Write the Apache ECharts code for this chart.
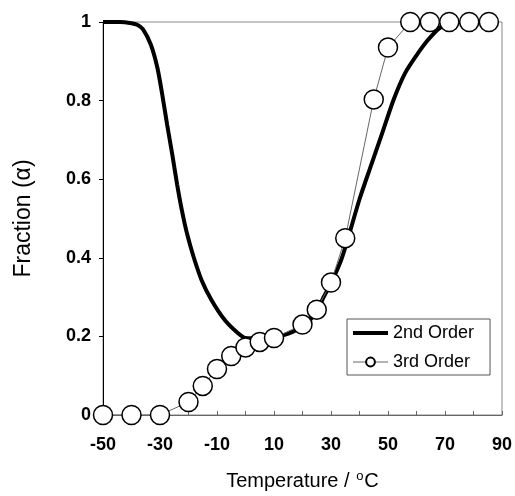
<!DOCTYPE html>
<html>
<head>
<meta charset="utf-8">
<title>Fraction vs Temperature</title>
<script src="https://cdn.jsdelivr.net/npm/echarts@6/dist/echarts.min.js"></script>
<style>
    html, body { margin: 0; padding: 0; background: #fff; }
    #chart { width: 515px; height: 496px; }
</style>
</head>
<body>
<div id="chart"></div>
<script>
/* ------ data ------ */

var secondTemps = [-50, -44, -40, -38, -36, -33.2, -30.9, -29.2, -27.5, -25.7, -24, -22.3, -20.5, -18.2, -15.4, -11.9, -7.2, -2.6, 0, 5, 10, 15, 20, 25, 27.4, 30, 33.7, 36.6, 40, 44, 48, 52, 56, 60, 64, 68, 72, 80, 86];
var secondFrac = [1, 1, 0.997, 0.993, 0.982, 0.942, 0.883, 0.815, 0.739, 0.663, 0.587, 0.52, 0.461, 0.402, 0.343, 0.292, 0.241, 0.208, 0.196, 0.195, 0.198, 0.207, 0.226, 0.262, 0.3, 0.335, 0.397, 0.465, 0.549, 0.634, 0.718, 0.803, 0.87, 0.915, 0.954, 0.984, 0.998, 1, 1];

var thirdTemps = [-50, -40, -30, -20, -15, -10, -5, 0, 5, 10, 20, 25, 30, 35, 45, 50, 57.8, 64.7, 71.5, 78.5, 85.4];
var thirdFrac = [0, 0, 0, 0.033, 0.074, 0.117, 0.15, 0.172, 0.186, 0.196, 0.23, 0.268, 0.337, 0.45, 0.803, 0.935, 1, 1, 1, 1, 1];

var seriesNames = ['2nd Order', '3rd Order'];

function pairs(xs, ys) {
    var out = [];
    for (var i = 0; i < xs.length; i++) {
        out.push([xs[i], ys[i]]);
    }
    return out;
}

/* ------ chart ------ */

var font = 'Liberation Sans, Arial, sans-serif';
var chart = echarts.init(document.getElementById('chart'));

var option = {
    animation: false,
    backgroundColor: '#fff',
    grid: {
        left: 103,
        right: 8,
        top: 22,
        bottom: 79,
        show: true,
        borderColor: '#888',
        borderWidth: 1
    },
    legend: {
        // no marker on the 2nd order line, only the thick stroke
        data: [
            { name: seriesNames[0], itemStyle: { opacity: 0 }, lineStyle: { width: 4, color: '#000' } },
            { name: seriesNames[1], lineStyle: { width: 1, color: '#666' } }
        ],
        left: 347,
        top: 319,
        orient: 'vertical',
        itemWidth: 35,
        itemHeight: 11,
        itemGap: 9,
        padding: [4, 16, 3, 4],
        borderColor: '#555',
        borderWidth: 1,
        textStyle: { fontFamily: font, fontSize: 18, lineHeight: 20, color: '#000' }
    },
    xAxis: {
        type: 'value',
        min: -50,
        max: 90,
        interval: 10,
        name: '{a|Temperature / }{sup|o}{a|C}',
        nameLocation: 'middle',
        nameGap: 55,
        nameTextStyle: {
            rich: {
                a: { fontFamily: font, fontSize: 20, color: '#000' },
                sup: { fontFamily: font, fontSize: 13, color: '#000', verticalAlign: 'top', padding: [0, 1, 9, 1] }
            }
        },
        axisLine: { onZero: false, lineStyle: { color: '#666', width: 1 } },
        axisTick: { inside: true, length: 4, lineStyle: { color: '#666' } },
        axisLabel: {
            margin: 21,
            fontFamily: font,
            fontSize: 18,
            fontWeight: 'bold',
            color: '#000',
            formatter: function (v) {
                return (v + 50) % 20 === 0 ? String(v) : '';
            }
        },
        splitLine: { show: false }
    },
    yAxis: {
        type: 'value',
        min: 0,
        max: 1,
        interval: 0.2,
        name: 'Fraction (α)',
        nameLocation: 'middle',
        nameGap: 68,
        nameTextStyle: { fontFamily: font, fontSize: 23, color: '#000' },
        axisLine: { show: true, onZero: false, lineStyle: { color: '#000', width: 1 } },
        axisTick: { show: true, length: 4, lineStyle: { color: '#000' } },
        axisLabel: {
            margin: 12,
            fontFamily: font,
            fontSize: 18,
            fontWeight: 'bold',
            color: '#000'
        },
        splitLine: { show: false }
    },
    series: [
        {
            name: seriesNames[0],
            type: 'line',
            data: pairs(secondTemps, secondFrac),
            symbol: 'none',
            smooth: 0.25,
            lineStyle: { color: '#000', width: 4 },
            itemStyle: { color: '#000' },
            z: 2
        },
        {
            name: seriesNames[1],
            type: 'line',
            data: pairs(thirdTemps, thirdFrac),
            symbol: 'circle',
            symbolSize: 19,
            lineStyle: { color: '#666', width: 1 },
            itemStyle: { color: '#fff', borderColor: '#000', borderWidth: 1.5 },
            z: 3
        }
    ]
};
chart.setOption(option);
</script>
</body>
</html>
